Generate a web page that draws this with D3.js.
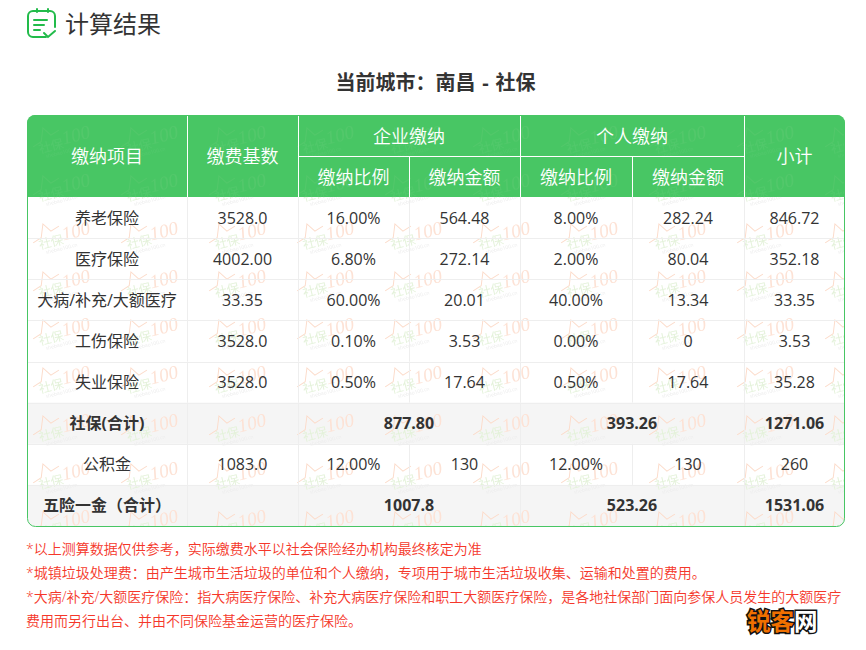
<!DOCTYPE html>
<html>
<head>
<meta charset="utf-8">
<style>
  html, body { margin: 0; padding: 0; background: #fff; }
  svg { display: block; }
  text { font-family: "Open Sans", "Noto Sans CJK SC", sans-serif; }
</style>
<script src="https://cdn.jsdelivr.net/npm/d3@7"></script>
</head>
<body>
<svg width="866" height="650"></svg>
<script>
const pageTitle = "计算结果";
const cityTitle = "当前城市：南昌 - 社保";

const columns = ["item", "base", "companyRate", "companyAmount", "personalRate", "personalAmount", "subtotal", "end"];
const columnEdges = [27, 187, 298, 409, 520, 632, 744, 845];

const rowNames = ["养老保险", "医疗保险", "大病/补充/大额医疗", "工伤保险", "失业保险", "社保(合计)", "公积金", "五险一金（合计）"];
const bases = ["3528.0", "4002.00", "33.35", "3528.0", "3528.0", null, "1083.0", null];
const companyRates = ["16.00%", "6.80%", "60.00%", "0.10%", "0.50%", null, "12.00%", null];
const companyAmounts = ["564.48", "272.14", "20.01", "3.53", "17.64", "877.80", "130", "1007.8"];
const personalRates = ["8.00%", "2.00%", "40.00%", "0.00%", "0.50%", null, "12.00%", null];
const personalAmounts = ["282.24", "80.04", "13.34", "0", "17.64", "393.26", "130", "523.26"];
const subtotals = ["846.72", "352.18", "33.35", "3.53", "35.28", "1271.06", "260", "1531.06"];
const totalRows = ["社保(合计)", "五险一金（合计）"];

const notes = [
  "*以上测算数据仅供参考，实际缴费水平以社会保险经办机构最终核定为准",
  "*城镇垃圾处理费：由产生城市生活垃圾的单位和个人缴纳，专项用于城市生活垃圾收集、运输和处置的费用。",
  "*大病/补充/大额医疗保险：指大病医疗保险、补充大病医疗保险和职工大额医疗保险，是各地社保部门面向参保人员发生的大额医疗",
  "费用而另行出台、并由不同保险基金运营的医疗保险。"
];

const green = "#48c664", textColor = "#333", lineColor = "#eeeeee";
const svg = d3.select("svg");
const defs = svg.append("defs");

const x = d3.scaleOrdinal(columns, columnEdges);
const y = d3.scaleBand().domain(rowNames).range([197, 526]);
const headY = d3.scaleOrdinal(["top", "mid", "bottom"], [115, 156, 197]);
const center = (a, b) => (x(a) + x(b)) / 2;

// page title with the little note icon
const icon = svg.append("g").attr("fill", "none").attr("stroke", "#22bb4a").attr("stroke-width", 2).attr("stroke-linecap", "round");
icon.append("path").attr("d", "M46 37H33a5 5 0 0 1-5-5V16a5 5 0 0 1 5-5H50a5 5 0 0 1 5 5V27");
icon.append("path").attr("d", "M37 9V12M48 9V12M34 20H47M34 25H44M34 30H40");
icon.append("path").attr("d", "M44 33L48 37L55 31");
svg.append("text").attr("x", 65).attr("y", 33).attr("font-size", 24).attr("fill", textColor).text(pageTitle);

svg.append("text").attr("x", 435.5).attr("y", 90).attr("text-anchor", "middle")
  .attr("font-size", 20).attr("font-weight", 700).attr("word-spacing", 1.5).attr("fill", textColor).text(cityTitle);

// table clip + backgrounds
defs.append("clipPath").attr("id", "tableClip").append("rect")
  .attr("x", x("item")).attr("y", headY("top")).attr("width", x("end") - x("item")).attr("height", 526 - 115).attr("rx", 8);

// repeating watermark tile
const tile = defs.append("pattern").attr("id", "mark").attr("patternUnits", "userSpaceOnUse")
  .attr("x", 27).attr("y", 117).attr("width", 88).attr("height", 48);
const tg = tile.append("g").attr("transform", "translate(3,2) rotate(-14 26 16)");
tg.append("path").attr("d", "M1 22L10 19L15 6L21 15L30 12").attr("fill", "none").attr("stroke", "#fcdccb").attr("stroke-width", 1);
tg.append("text").attr("x", 6).attr("y", 30).attr("font-size", 12.5).attr("fill", "#e4f2da").text("社保");
tg.append("text").attr("x", 31).attr("y", 27).attr("font-size", 19).attr("font-style", "italic")
  .style("font-family", "'Liberation Serif'").attr("fill", "#fde2d5").text("100");
tg.append("text").attr("x", 11).attr("y", 36).attr("font-size", 5).attr("fill", "#ececec").text("shebao100.cn");

const table = svg.append("g").attr("clip-path", "url(#tableClip)");
table.selectAll("rect.total").data(totalRows).join("rect").attr("class", "total")
  .attr("x", x("item")).attr("y", d => y(d)).attr("width", x("end") - x("item")).attr("height", y.bandwidth()).attr("fill", "#f5f5f5");
table.append("rect").attr("x", x("item")).attr("y", headY("bottom")).attr("width", x("end") - x("item")).attr("height", 329).attr("fill", "url(#mark)");

// header band, with only a hint of the watermark showing through
table.append("rect").attr("x", x("item")).attr("y", headY("top")).attr("width", x("end") - x("item")).attr("height", 82).attr("fill", green);
table.append("rect").attr("x", x("item")).attr("y", headY("top")).attr("width", x("end") - x("item")).attr("height", 82)
  .attr("fill", "url(#mark)").attr("opacity", 0.06);

// body grid lines
table.selectAll("line.h").data(rowNames.slice(1)).join("line").attr("class", "h")
  .attr("x1", x("item")).attr("x2", x("end")).attr("y1", d => Math.round(y(d)) + 0.5).attr("y2", d => Math.round(y(d)) + 0.5)
  .attr("stroke", lineColor);
rowNames.forEach(r => {
  const isTotal = totalRows.includes(r);
  const cols = isTotal ? ["base", "companyRate", "personalRate", "subtotal"] : columns.slice(1, 7);
  table.selectAll(null).data(cols).join("line")
    .attr("x1", d => x(d) + 0.5).attr("x2", d => x(d) + 0.5).attr("y1", y(r)).attr("y2", y(r) + y.bandwidth())
    .attr("stroke", lineColor);
});

// header lines
const headLines = [
  ["base", "top", "bottom"], ["companyRate", "top", "bottom"], ["companyAmount", "mid", "bottom"],
  ["personalRate", "top", "bottom"], ["personalAmount", "mid", "bottom"], ["subtotal", "top", "bottom"]
];
table.selectAll("line.hv").data(headLines).join("line").attr("class", "hv")
  .attr("x1", d => x(d[0]) + 0.5).attr("x2", d => x(d[0]) + 0.5)
  .attr("y1", d => headY(d[1])).attr("y2", d => headY(d[2])).attr("stroke", "#fff");
table.append("line").attr("x1", x("companyRate")).attr("x2", x("subtotal"))
  .attr("y1", headY("mid") + 0.5).attr("y2", headY("mid") + 0.5).attr("stroke", "#fff");

// header text
const headCells = [
  ["缴纳项目", center("item", "base"), 163], ["缴费基数", center("base", "companyRate"), 163],
  ["企业缴纳", center("companyRate", "personalRate"), 143], ["个人缴纳", center("personalRate", "subtotal"), 143],
  ["缴纳比例", center("companyRate", "companyAmount"), 184], ["缴纳金额", center("companyAmount", "personalRate"), 184],
  ["缴纳比例", center("personalRate", "personalAmount"), 184], ["缴纳金额", center("personalAmount", "subtotal"), 184],
  ["小计", center("subtotal", "end"), 163]
];
svg.selectAll("text.head").data(headCells).join("text").attr("class", "head")
  .attr("x", d => d[1]).attr("y", d => d[2])
  .attr("text-anchor", "middle").attr("font-size", 18).attr("font-weight", 350).attr("fill", "#fff").text(d => d[0]);

// body text
const bodyCols = [
  [rowNames, "item", "base"], [bases, "base", "companyRate"], [companyRates, "companyRate", "companyAmount"],
  [companyAmounts, "companyAmount", "personalRate"], [personalRates, "personalRate", "personalAmount"],
  [personalAmounts, "personalAmount", "subtotal"], [subtotals, "subtotal", "end"]
];
bodyCols.forEach(([vals, a, b]) => {
  vals.forEach((v, i) => {
    if (v === null) return;
    const r = rowNames[i];
    const isTotal = totalRows.includes(r);
    let cx = center(a, b);
    if (isTotal && a === "companyAmount") cx = x("companyAmount");
    if (isTotal && a === "personalAmount") cx = x("personalAmount");
    svg.append("text").attr("x", cx).attr("y", y(r) + y.bandwidth() / 2 + 6)
      .attr("text-anchor", "middle").attr("font-size", 16)
      .attr("font-weight", isTotal ? 700 : 400).attr("fill", textColor).text(v);
  });
});

// outer border
svg.append("rect").attr("x", x("item") + 0.5).attr("y", headY("top") + 0.5)
  .attr("width", x("end") - x("item") - 1).attr("height", 411).attr("rx", 8)
  .attr("fill", "none").attr("stroke", green);

// footnotes
const noteY = d3.scalePoint().domain(notes).range([554, 626]);
svg.selectAll("text.note").data(notes).join("text").attr("class", "note")
  .attr("x", 26).attr("y", d => noteY(d)).attr("font-size", 14).attr("font-weight", 350).attr("fill", "#f5372a").text(d => d);

// site stamp bottom right
const stamp = svg.append("text").attr("x", 747).attr("y", 630).attr("font-size", 23.5).attr("font-weight", 700);
stamp.append("tspan").attr("fill", "#f07000").attr("stroke", "#111").attr("stroke-width", 3).attr("paint-order", "stroke").text("锐客");
stamp.append("tspan").attr("fill", "#fff").attr("stroke", "#111").attr("stroke-width", 3).attr("paint-order", "stroke").text("网");
</script>
</body>
</html>
